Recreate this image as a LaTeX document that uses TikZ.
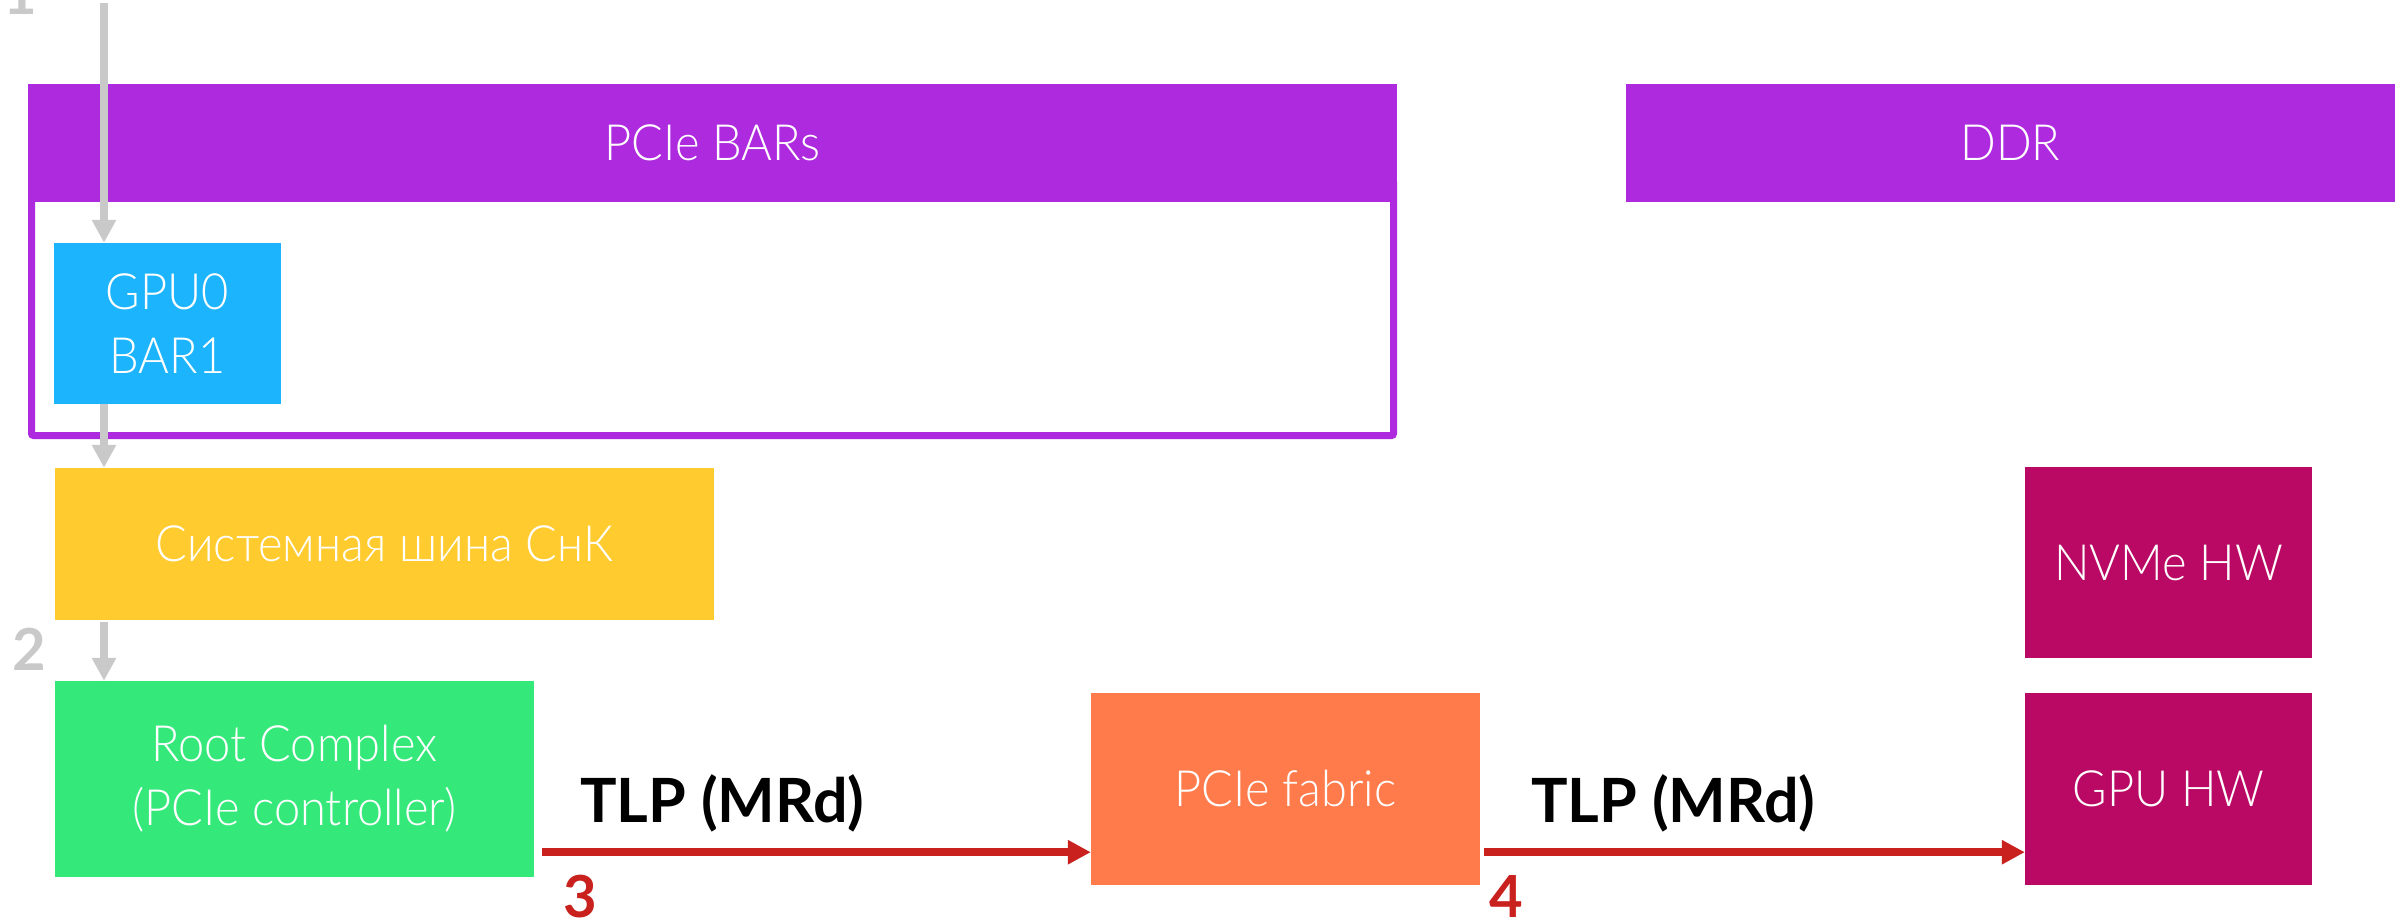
\documentclass[tikz,border=0pt]{standalone}
\usepackage{fontspec}
\setmainfont{Lato}
\newfontfamily\boxfont{Lato}[UprightFont={* Light}, FakeStretch=0.94]
\usetikzlibrary{arrows.meta}

\definecolor{memviolet}{HTML}{AE2ADF}
\definecolor{barblue}{HTML}{1CB4FC}
\definecolor{busyellow}{HTML}{FFCB2F}
\definecolor{rcgreen}{HTML}{35E87A}
\definecolor{fabricorange}{HTML}{FF7B4C}
\definecolor{hwmagenta}{HTML}{B90964}
\definecolor{tlpred}{HTML}{C9211E}
\definecolor{flowgray}{HTML}{C9C9C9}

\begin{document}
\begin{tikzpicture}[x=1pt,y=-1pt,
  block/.style={rectangle, inner sep=0pt, text=white, align=center,
    font=\boxfont\fontsize{50}{64}\selectfont},
  tlplabel/.style={inner sep=0pt, anchor=base west, text=black,
    font=\bfseries\fontsize{61}{70}\selectfont},
  steplabel/.style={inner sep=0pt, anchor=base west,
    font=\bfseries\fontsize{58}{64}\selectfont},
  grayflow/.style={draw=flowgray, line width=8pt,
    -{Triangle[length=23pt,width=23pt]}},
  tlpflow/.style={draw=tlpred, line width=8pt,
    -{Triangle[length=23pt,width=23pt]}}]

\useasboundingbox (0,0) rectangle (2406,923);
\fill[white] (0,0) rectangle (2406,923);

% frame of the PCIe BAR window
\draw[memviolet, line width=7pt, rounded corners=2pt]
  (31.5,180) rectangle (1393.5,435.5);

% memory map bars
\node[block, fill=memviolet, minimum width=1369pt, minimum height=118pt]
  (bars) at (712.5,143) {PCIe BARs};
\node[block, fill=memviolet, minimum width=769pt, minimum height=118pt]
  (ddr) at (2010.5,143) {DDR};
\node[block, fill=barblue, minimum width=227pt, minimum height=161pt]
  (gpu0) at (167.5,323.5) {GPU0\\BAR1};

% host side
\node[block, fill=busyellow, minimum width=659pt, minimum height=152pt]
  (soc) at (384.5,544) {Системная шина СнК};
\node[block, fill=rcgreen, minimum width=479pt, minimum height=196pt]
  (rc) at (294.5,779) {Root Complex\\(PCIe controller)};

% fabric and devices
\node[block, fill=fabricorange, minimum width=389pt, minimum height=192pt]
  (fab) at (1285.5,789) {PCIe fabric};
\node[block, fill=hwmagenta, minimum width=287pt, minimum height=191pt]
  (nvme) at (2168.5,562.5) {NVMe HW};
\node[block, fill=hwmagenta, minimum width=287pt, minimum height=192pt]
  (gpuhw) at (2168.5,789) {GPU HW};

% access path through the host
\coordinate (src) at (104,3);
\draw[grayflow] (src) -- (src |- gpu0.north);
\draw[grayflow] (gpu0.south -| src) -- (soc.north -| src);
\draw[grayflow] ([yshift=-2pt]soc.south -| src) -- (rc.north -| src);

% TLP read requests
\path (rc.south east) ++(8,-25) coordinate (r3s);
\draw[tlpflow] (r3s) -- (r3s -| fab.west);
\path (fab.south east) ++(4,-33) coordinate (r4s);
\draw[tlpflow] (r4s) -- (r4s -| gpuhw.west);

\node[tlplabel] (tlp1) at (580,822) {TLP (MRd)};
\node[tlplabel] (tlp2) at (1531,822) {TLP (MRd)};

% step numbers
\node[steplabel, text=flowgray] (s1) at (3,15) {1};
\node[steplabel, text=flowgray] (s2) at (12,670) {2};
\node[steplabel, text=tlpred] (s3) at (563,917) {3};
\node[steplabel, text=tlpred] (s4) at (1489,917) {4};
\end{tikzpicture}
\end{document}
